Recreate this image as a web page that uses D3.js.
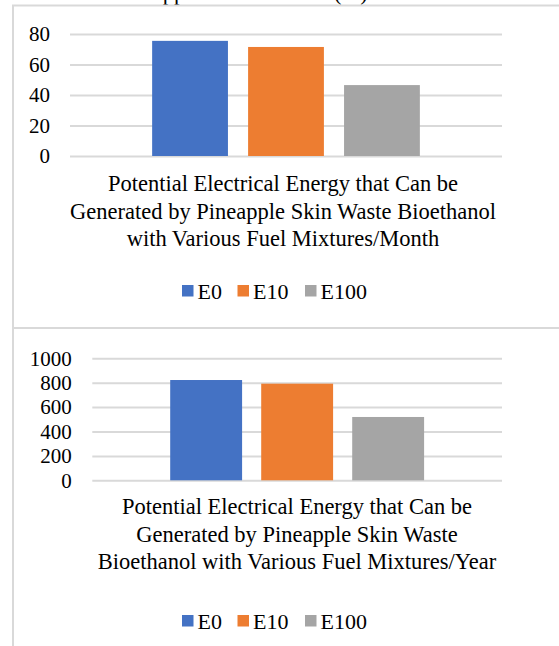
<!DOCTYPE html>
<html>
<head>
<meta charset="utf-8">
<script src="https://cdn.jsdelivr.net/npm/d3@7"></script>
<style>
  body { margin: 0; background: #fff; }
  svg { display: block; font-family: "Liberation Serif", "Times New Roman", serif; }
</style>
</head>
<body>
<div class="energyCharts"></div>
<script>
// Series and values
const categories = ["E0", "E10", "E100"];
const monthValues = [75.5, 71.5, 46.5];
const yearValues = [822, 792, 519];
const monthTicks = [0, 20, 40, 60, 80];
const yearTicks = [0, 200, 400, 600, 800, 1000];
const colors = ["#4472C4", "#ED7D31", "#A5A5A5"];
const monthTitle = [
  "Potential Electrical Energy that Can be",
  "Generated by Pineapple Skin Waste Bioethanol",
  "with Various Fuel Mixtures/Month"
];
const yearTitle = [
  "Potential Electrical Energy that Can be",
  "Generated by Pineapple Skin Waste",
  "Bioethanol with Various Fuel Mixtures/Year"
];

const W = 559, H = 646;
const serif = "'Liberation Serif', 'Times New Roman', serif";

const svg = d3.select(".energyCharts")
  .append("svg")
  .attr("width", W)
  .attr("height", H);

// Caption of the page above, only its descenders peek in at the top edge
svg.append("text").attr("x", 139).attr("y", 0).style("font-size", "22.5px").text("Supplement");
svg.append("text").attr("x", 334).attr("y", 0).style("font-size", "22.5px").text("(%)");

// Frames round the two charts (right edge runs off the page)
svg.append("path")
  .attr("d", `M13,${H} V5.5 H${W + 5} M13,328 H${W + 5}`)
  .attr("fill", "none")
  .attr("stroke", "#d9d9d9")
  .attr("stroke-width", 2);

function drawChart(opts) {
  const g = svg.append("g");

  const x = d3.scaleBand()
    .domain(categories)
    .range([opts.left, opts.right])
    .paddingInner(0.21)
    .paddingOuter(0.856);

  const y = d3.scaleLinear()
    .domain([0, d3.max(opts.ticks)])
    .range([opts.bottom, opts.top]);

  // Gridlines and tick labels
  const axis = g.append("g")
    .attr("transform", `translate(${opts.left},0)`)
    .call(d3.axisLeft(y)
      .tickValues(opts.ticks)
      .tickFormat(d3.format("d"))
      .tickSize(-(opts.right - opts.left))
      .tickPadding(opts.pad));
  axis.attr("font-family", null).attr("font-size", null);
  axis.select(".domain").remove();
  axis.selectAll(".tick line")
    .attr("stroke", "#d9d9d9")
    .attr("stroke-width", 2);
  axis.selectAll(".tick text")
    .attr("fill", "#000")
    .style("font-family", serif)
    .style("font-size", "21px");

  // Bars
  g.selectAll("rect.bar")
    .data(opts.values)
    .enter().append("rect")
    .attr("class", "bar")
    .attr("x", (d, i) => x(categories[i]))
    .attr("y", d => y(d))
    .attr("width", x.bandwidth())
    .attr("height", d => y(0) - y(d))
    .attr("fill", (d, i) => colors[i]);

  // Title under the plot
  const title = g.append("text")
    .attr("text-anchor", "middle")
    .style("font-family", serif)
    .style("font-size", "22.5px");
  title.selectAll("tspan")
    .data(opts.title)
    .enter().append("tspan")
    .attr("x", opts.titleX)
    .attr("y", (d, i) => opts.titleY + i * 27.6)
    .text(d => d);

  // Legend
  const legend = g.selectAll("g.legend")
    .data(categories)
    .enter().append("g")
    .attr("class", "legend")
    .attr("transform", (d, i) => `translate(${opts.legendX[i]},${opts.legendY})`);
  legend.append("rect")
    .attr("y", -6)
    .attr("width", 11.5)
    .attr("height", 11.5)
    .attr("fill", (d, i) => colors[i]);
  legend.append("text")
    .attr("x", 15.5)
    .attr("dy", "0.35em")
    .style("font-family", serif)
    .style("font-size", "22px")
    .text(d => d);
}

drawChart({
  values: monthValues, ticks: monthTicks, title: monthTitle,
  left: 70, right: 502, top: 34, bottom: 156, pad: 20,
  titleX: 283, titleY: 191,
  legendX: [182, 237.5, 305], legendY: 291
});

drawChart({
  values: yearValues, ticks: yearTicks, title: yearTitle,
  left: 92.3, right: 502, top: 358.3, bottom: 480.3, pad: 20.6,
  titleX: 297, titleY: 514,
  legendX: [182, 237.5, 305], legendY: 621
});
</script>
</body>
</html>
